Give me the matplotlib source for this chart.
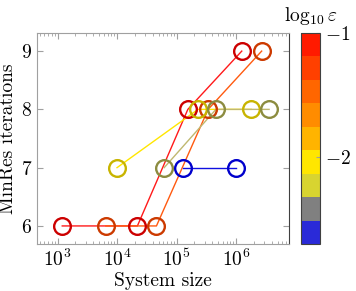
import numpy as np
import matplotlib
matplotlib.use("Agg")
import matplotlib.pyplot as plt
from matplotlib.colors import ListedColormap, Normalize
from matplotlib.ticker import LogLocator, FixedLocator

plt.rcParams['font.family'] = 'serif'
plt.rcParams['font.serif'] = ['cmr10']
plt.rcParams['mathtext.fontset'] = 'cm'
plt.rcParams['axes.formatter.use_mathtext'] = True

# series: (system sizes, iterations, line colour, marker colour)
red_x = [1.2e3, 2.2e4, 1.55e5, 1.25e6]
red_y = [6, 6, 8, 9]
orange_x = [6.5e3, 4.6e4, 3.4e5, 2.7e6]
orange_y = [6, 6, 8, 9]
yellow_x = [1.0e4, 2.3e5, 1.8e6]
yellow_y = [7, 8, 8]
olive_x = [6.2e4, 4.6e5, 3.6e6]
olive_y = [7, 8, 8]
blue_x = [1.3e5, 1.0e6]
blue_y = [7, 7]

series = [
    (red_x, red_y, '#ff1a1a', '#cc0000'),
    (orange_x, orange_y, '#ff5a10', '#cc3a00'),
    (yellow_x, yellow_y, '#ffe600', '#c8b400'),
    (olive_x, olive_y, '#c0b870', '#8c8c40'),
    (blue_x, blue_y, '#1010e0', '#0000cc'),
]

# colour bar bands, low to high log10 eps
band_colors = ['#2a2ad8', '#808080', '#d8d430', '#ffe600', '#ffb400',
               '#ff8c00', '#ff6600', '#ff4000', '#ff1a00']
eps_min, eps_max = -2.7, -1.0

fig = plt.figure(figsize=(3.56, 2.91), dpi=100)
ax = fig.add_axes([0.104, 0.1615, 0.708, 0.725])
cax = fig.add_axes([0.8455, 0.1615, 0.0535, 0.725])

for x, y, lc, mc in series:
    ax.plot(x, y, color=lc, lw=1.0, zorder=2)
    ax.plot(x, y, ls='none', marker='o', ms=12, mfc='none', mec=mc,
            mew=1.7, zorder=3)

ax.set_xscale('log')
ax.set_xlim(452, 7.8e6)
ax.set_ylim(5.69, 9.31)
ax.yaxis.set_major_locator(FixedLocator([6, 7, 8, 9]))
ax.xaxis.set_major_locator(LogLocator(base=10, numticks=10))
ax.xaxis.set_minor_locator(LogLocator(base=10, subs=np.arange(2, 10), numticks=20))
ax.tick_params(which='both', direction='in', top=True, right=True,
               color='#a0a0a0', labelsize=14)
ax.tick_params(which='major', length=4)
ax.tick_params(which='minor', length=2)
for s in ['left', 'bottom', 'top']:
    ax.spines[s].set_color('#a0a0a0')
ax.spines['right'].set_color('#404040')
ax.set_xlabel('System size', fontsize=14, labelpad=1)
ax.set_ylabel('MinRes iterations', fontsize=14, labelpad=3)

cmap = ListedColormap(band_colors)
sm = plt.cm.ScalarMappable(cmap=cmap, norm=Normalize(eps_min, eps_max))
cb = fig.colorbar(sm, cax=cax)
cb.set_ticks([-2, -1])
cb.ax.tick_params(labelsize=14, direction='in', color='#a0a0a0', length=3)
cb.outline.set_edgecolor('#404040')
cax.set_title(r'$\log_{10}\varepsilon$', fontsize=14, pad=9)

fig.savefig('out.png', dpi=100)
